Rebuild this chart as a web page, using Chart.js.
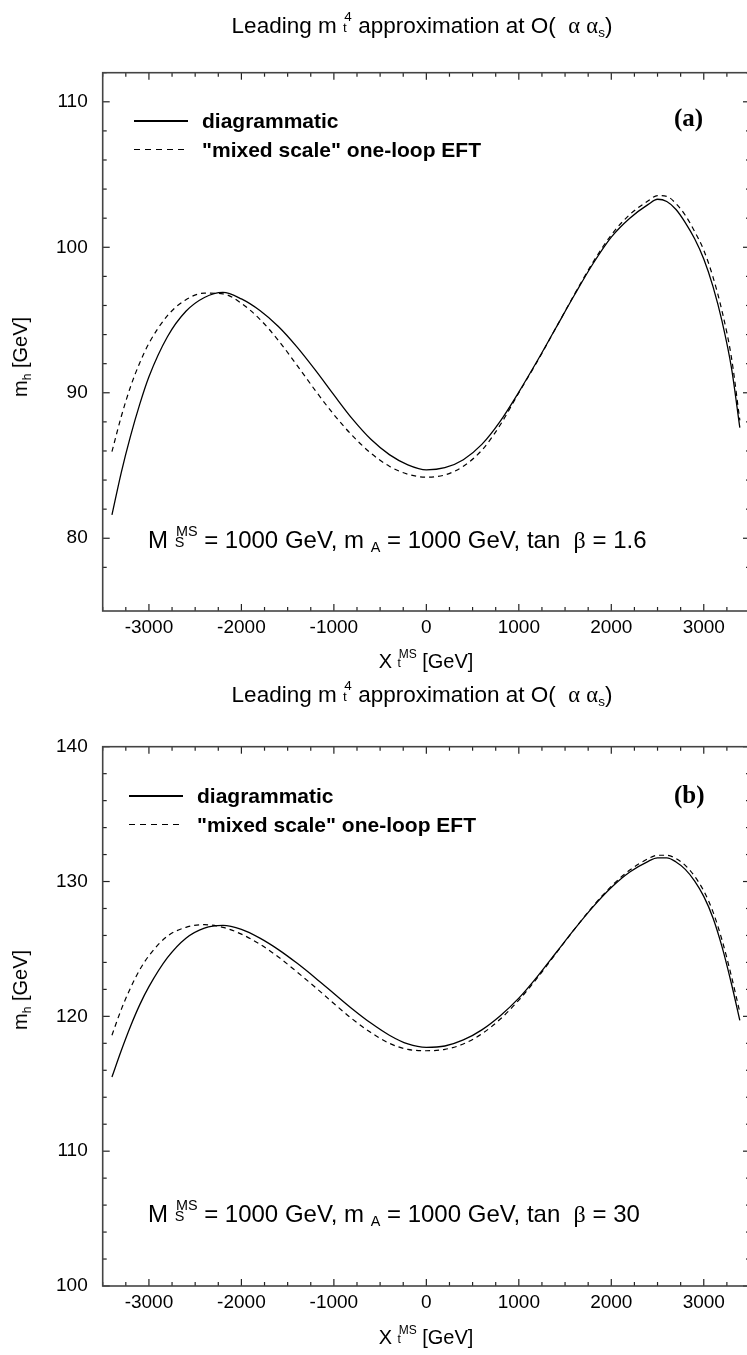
<!DOCTYPE html>
<html>
<head>
<meta charset="utf-8">
<script src="https://cdn.jsdelivr.net/npm/chart.js@4.4.1/dist/chart.umd.min.js"></script>
<style>
  html, body { margin: 0; padding: 0; background: #fff; overflow: hidden; }
  body { width: 747px; height: 1355px; position: relative; font-family: "Liberation Sans", Arial, sans-serif; color: #000; }
  canvas { position: absolute; left: 0; }
  #chartA { top: 0; }
  #chartB { top: 680px; }
  .txt { position: absolute; white-space: nowrap; line-height: 1; }
  .center { transform: translateX(-50%); }
  .title { font-size: 22.5px; }
  .axlabel { font-size: 20px; }
  .ylabel { font-size: 20px; transform: translate(-50%, -50%) rotate(-90deg); }
  .legend { font-size: 21px; font-weight: bold; }
  .note { font-size: 24px; }
  .panel { font-family: "Liberation Serif", "Times New Roman", serif; font-size: 25px; font-weight: bold; }
  .greek { font-family: "Liberation Serif", "DejaVu Serif", serif; }
  .sub { font-size: 0.6em; position: relative; top: 0.3em; }
  .stk { display: inline-block; position: relative; height: 1em; }
  .stk span { position: absolute; left: 0; font-size: 0.6em; line-height: 1; }
  .stk .up { top: 0.0em; left: 0.1em; }
  .stk .dn { top: 0.78em; }
  .lsample { position: absolute; height: 1.3px; }
  .solid { background: #000; }
  .dashed { background: repeating-linear-gradient(to right, #000 0 6px, transparent 6px 11px); }
</style>
</head>
<body>
<canvas id="chartA" width="760" height="660"></canvas>
<canvas id="chartB" width="760" height="660"></canvas>

<!-- panel (a) texts -->
<div class="txt title center" style="left:422px; top:10px;">Leading m <span class="stk" style="width:0.4em"><span class="up">4</span><span class="dn">t</span></span> approximation at O(&nbsp; <span class="greek">&alpha;</span> <span class="greek">&alpha;</span><span class="sub">s</span>)</div>
<div class="lsample solid" style="left:134px; top:120.4px; width:54px;"></div>
<div class="lsample dashed" style="left:134px; top:148.7px; width:54px;"></div>
<div class="txt legend" style="left:202px; top:110px;">diagrammatic</div>
<div class="txt legend" style="left:202px; top:138.5px;">"mixed scale" one-loop EFT</div>
<div class="txt panel" style="left:674px; top:105px;">(a)</div>
<div class="txt note" style="left:148px; top:524px;">M <span class="stk" style="width:0.95em"><span class="up">MS</span><span class="dn">S</span></span> = 1000 GeV, m <span class="sub">A</span> = 1000 GeV, tan&nbsp; <span class="greek">&beta;</span> = 1.6</div>
<div class="txt axlabel center" style="left:426px; top:648px;">X <span class="stk" style="width:0.95em"><span class="up">MS</span><span class="dn">t</span></span> [GeV]</div>
<div class="txt ylabel" style="left:20px; top:357px;">m<span class="sub">h</span> [GeV]</div>

<!-- panel (b) texts -->
<div class="txt title center" style="left:422px; top:679px;">Leading m <span class="stk" style="width:0.4em"><span class="up">4</span><span class="dn">t</span></span> approximation at O(&nbsp; <span class="greek">&alpha;</span> <span class="greek">&alpha;</span><span class="sub">s</span>)</div>
<div class="lsample solid" style="left:129px; top:795.4px; width:54px;"></div>
<div class="lsample dashed" style="left:129px; top:823.7px; width:54px;"></div>
<div class="txt legend" style="left:197px; top:785px;">diagrammatic</div>
<div class="txt legend" style="left:197px; top:813.5px;">"mixed scale" one-loop EFT</div>
<div class="txt panel" style="left:674px; top:782px;">(b)</div>
<div class="txt note" style="left:148px; top:1198px;">M <span class="stk" style="width:0.95em"><span class="up">MS</span><span class="dn">S</span></span> = 1000 GeV, m <span class="sub">A</span> = 1000 GeV, tan&nbsp; <span class="greek">&beta;</span> = 30</div>
<div class="txt axlabel center" style="left:426px; top:1324px;">X <span class="stk" style="width:0.95em"><span class="up">MS</span><span class="dn">t</span></span> [GeV]</div>
<div class="txt ylabel" style="left:20px; top:990px;">m<span class="sub">h</span> [GeV]</div>

<script>
// X_t values (GeV) shared by all curves
const xValues = [-3400, -3300, -3200, -3100, -3000, -2800, -2600, -2400, -2200, -2000,
  -1800, -1600, -1400, -1200, -1000, -800, -600, -400, -200, 0,
  200, 400, 600, 800, 1000, 1200, 1400, 1600, 1800, 2000,
  2200, 2400, 2500, 2600, 2700, 2800, 2900, 3000, 3100, 3200, 3300, 3390];

// panel (a): tan beta = 1.6
const aDiagrammatic = [81.6, 84.5, 87.0, 89.2, 91.1, 93.85, 95.6, 96.55, 96.9, 96.45,
  95.65, 94.55, 93.15, 91.55, 89.85, 88.2, 86.8, 85.75, 85.05, 84.7,
  84.85, 85.4, 86.45, 88.05, 90.05, 92.2, 94.45, 96.7, 98.85, 100.7,
  102.0, 102.95, 103.3, 103.15, 102.6, 101.7, 100.6, 99.2, 97.3, 94.85, 91.7, 87.6];
const aMixedEFT = [85.95, 88.35, 90.4, 92.05, 93.4, 95.3, 96.4, 96.85, 96.8, 96.15,
  95.05, 93.6, 91.9, 90.15, 88.5, 87.05, 85.85, 84.95, 84.4, 84.2,
  84.35, 84.95, 86.05, 87.8, 90.0, 92.15, 94.45, 96.75, 98.95, 100.85,
  102.25, 103.2, 103.55, 103.5, 103.0, 102.2, 101.1, 99.8, 97.95, 95.55, 92.4, 88.1];

// panel (b): tan beta = 30
const bDiagrammatic = [115.5, 117.45, 119.25, 120.85, 122.2, 124.35, 125.8, 126.55, 126.75, 126.45,
  125.8, 124.95, 123.95, 122.85, 121.7, 120.55, 119.5, 118.6, 117.95, 117.7,
  117.8, 118.25, 119.0, 120.05, 121.35, 122.95, 124.7, 126.45, 128.1, 129.55,
  130.7, 131.5, 131.75, 131.75, 131.45, 130.9, 130.05, 128.9, 127.3, 125.1, 122.4, 119.7];
const bMixedEFT = [118.6, 120.5, 122.1, 123.45, 124.5, 125.95, 126.6, 126.8, 126.6, 126.1,
  125.35, 124.4, 123.3, 122.15, 120.95, 119.8, 118.8, 118.0, 117.55, 117.45,
  117.55, 117.95, 118.7, 119.8, 121.2, 122.85, 124.65, 126.45, 128.15, 129.65,
  130.85, 131.7, 131.95, 131.95, 131.7, 131.2, 130.4, 129.3, 127.75, 125.6, 122.95, 120.3];

// axis ranges and tick steps
const xRange = [-3500, 3500];
const xMinorStep = 250, xMajorStep = 1000;
const aRange = [75, 112];
const bRange = [100, 140];
const yMinorStep = 2, yMajorStep = 10;

const toPoints = arr => xValues.map((x, i) => ({ x: x, y: arr[i] }));

// frame around the plot with inward ticks on all four sides
const frameTicks = {
  id: 'frameTicks',
  afterDraw(chart) {
    const { ctx, chartArea: a, scales: { x, y } } = chart;
    const seg = (x1, y1, x2, y2) => { ctx.beginPath(); ctx.moveTo(x1, y1); ctx.lineTo(x2, y2); ctx.stroke(); };
    ctx.save();
    ctx.strokeStyle = '#222';
    ctx.lineWidth = 1.2;
    x.ticks.forEach(t => {
      if (t.value % xMinorStep !== 0) return;
      const px = x.getPixelForValue(t.value);
      const len = t.value % xMajorStep === 0 ? 7 : 4;
      seg(px, a.bottom, px, a.bottom - len);
      seg(px, a.top, px, a.top + len);
    });
    y.ticks.forEach(t => {
      if (t.value % yMinorStep !== 0) return;
      const py = y.getPixelForValue(t.value);
      const len = t.value % yMajorStep === 0 ? 7 : 4;
      seg(a.left, py, a.left + len, py);
      seg(a.right, py, a.right - len, py);
    });
    ctx.strokeStyle = '#444';
    ctx.lineWidth = 1.6;
    ctx.strokeRect(a.left, a.top, a.right - a.left, a.bottom - a.top);
    ctx.restore();
  }
};

function makeChart(id, solid, dashed, yRange, padTop, padBottom) {
  const ctx = document.getElementById(id).getContext('2d');
  return new Chart(ctx, {
    type: 'line',
    data: {
      datasets: [
        {
          label: 'diagrammatic',
          data: toPoints(solid),
          borderColor: '#000',
          borderWidth: 1.3,
          pointRadius: 0,
          cubicInterpolationMode: 'monotone',
          fill: false
        },
        {
          label: '"mixed scale" one-loop EFT',
          data: toPoints(dashed),
          borderColor: '#000',
          borderWidth: 1.2,
          borderDash: [5, 4],
          pointRadius: 0,
          cubicInterpolationMode: 'monotone',
          fill: false
        }
      ]
    },
    options: {
      responsive: false,
      animation: false,
      layout: { padding: { top: padTop, bottom: padBottom, left: 0, right: 10 } },
      plugins: { legend: { display: false }, tooltip: { enabled: false }, title: { display: false } },
      scales: {
        x: {
          type: 'linear',
          min: xRange[0],
          max: xRange[1],
          grid: { display: false, drawTicks: false },
          border: { display: false },
          ticks: {
            stepSize: xMinorStep,
            autoSkip: false,
            maxRotation: 0,
            padding: 5,
            color: '#000',
            font: { family: 'Liberation Sans', size: 19 },
            callback: v => (v % xMajorStep === 0 ? String(v) : '')
          },
          afterFit: s => { s.height = 40; }
        },
        y: {
          min: yRange[0],
          max: yRange[1],
          grid: { display: false, drawTicks: false },
          border: { display: false },
          ticks: {
            stepSize: yMinorStep,
            autoSkip: false,
            padding: 15,
            color: '#000',
            font: { family: 'Liberation Sans', size: 19 },
            callback: v => (v % yMajorStep === 0 ? String(v) : '')
          },
          afterFit: s => { s.width = 102.7; }
        }
      }
    },
    plugins: [frameTicks]
  });
}

makeChart('chartA', aDiagrammatic, aMixedEFT, aRange, 72.7, 9);
makeChart('chartB', bDiagrammatic, bMixedEFT, bRange, 66.7, 14);
</script>
</body>
</html>
